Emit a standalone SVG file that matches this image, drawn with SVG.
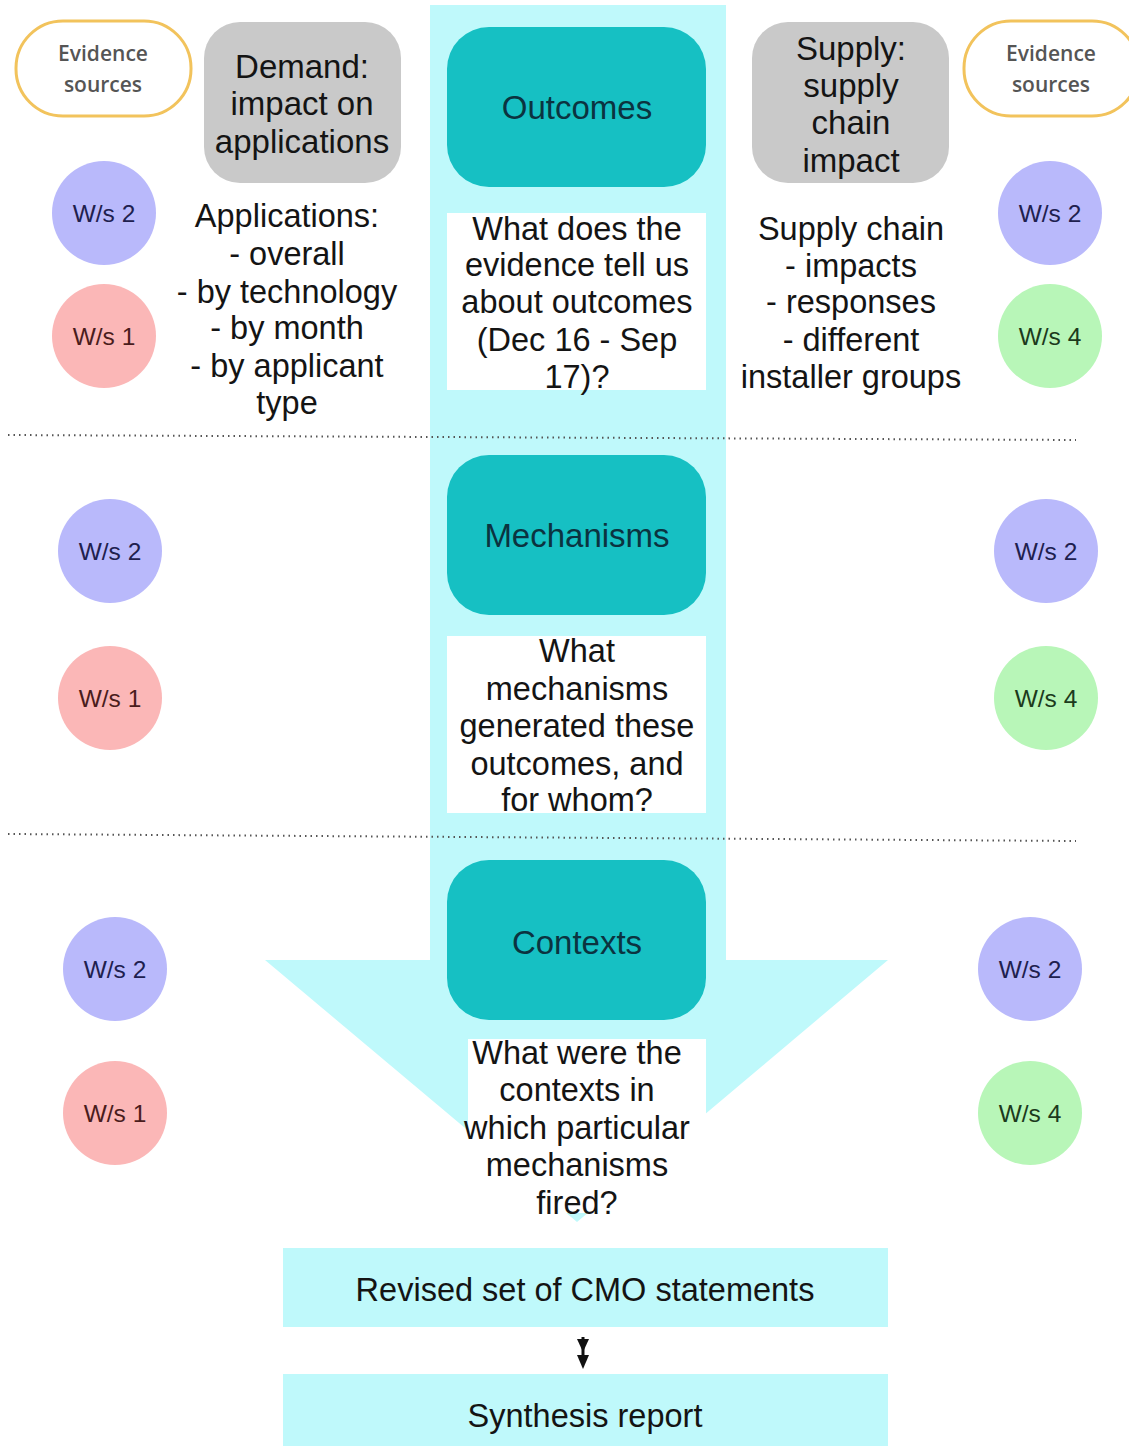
<svg xmlns="http://www.w3.org/2000/svg" width="1129" height="1446" viewBox="0 0 1129 1446">
<style>
  .t{font-family:"Liberation Sans",Arial,sans-serif;fill:#141414;text-anchor:middle}
  .big{font-size:33px}
  .q{font-size:32.5px}
  .lbl{font-family:"Liberation Sans",Arial,sans-serif;font-size:33px;fill:#0b3340;text-anchor:middle}
  .teal{fill:#16c0c3}
  .grey{fill:#c9c9c9}
  .wbox{fill:#ffffff}
  .cyan{fill:#bff9fb}
  .ev{fill:#ffffff;stroke:#f2c35c;stroke-width:3}
  .evt{font-family:"Open Sans","DejaVu Sans",sans-serif;font-size:21px;font-weight:600;fill:#555555;text-anchor:middle}
  .ws{font-family:"Liberation Sans",Arial,sans-serif;font-size:24.5px;text-anchor:middle}
  .pu{fill:#b9b9fb}.pk{fill:#fbb7b7}.gr{fill:#b8f6b8}
  .put{fill:#20204e}.pkt{fill:#4a1c1c}.grt{fill:#1c3a1c}
  .dot{stroke:#555;stroke-width:2;stroke-dasharray:1.5 4;fill:none}
</style>

<g id="big-arrow">
  <rect class="cyan" x="430" y="5" width="296" height="956"/>
  <polygon class="cyan" points="265,960 888,960 577,1222"/>
</g>

<g id="connectors">
  <line class="dot" x1="8" y1="435" x2="1076" y2="440"/>
  <line class="dot" x1="8" y1="834" x2="1076" y2="841"/>
  <line x1="583" y1="1337" x2="583" y2="1360" stroke="#111" stroke-width="3"/>
  <polygon points="577,1339 589,1339 583,1352" fill="#111"/>
  <polygon points="577,1355 589,1355 583,1369" fill="#111"/>
</g>

<g id="evidence-left">
  <rect class="ev" x="16" y="21" width="175" height="95" rx="47"/>
  <text class="evt" x="103" y="61">Evidence</text>
  <text class="evt" x="103" y="92">sources</text>
</g>
<g id="evidence-right">
  <rect class="ev" x="964" y="21" width="175" height="95" rx="47"/>
  <text class="evt" x="1051" y="61">Evidence</text>
  <text class="evt" x="1051" y="92">sources</text>
</g>

<g id="demand">
  <rect class="grey" x="204" y="22" width="197" height="161" rx="36"/>
  <text class="t big" x="302" y="78">Demand:</text>
  <text class="t big" x="302" y="115">impact on</text>
  <text class="t big" x="302" y="153">applications</text>
</g>
<g id="supply">
  <rect class="grey" x="752" y="22" width="197" height="161" rx="36"/>
  <text class="t big" x="851" y="60">Supply:</text>
  <text class="t big" x="851" y="97">supply</text>
  <text class="t big" x="851" y="134">chain</text>
  <text class="t big" x="851" y="172">impact</text>
</g>

<g id="applications-text">
  <text class="t q" x="287" y="227">Applications:</text>
  <text class="t q" x="287" y="265">- overall</text>
  <text class="t q" x="287" y="303">- by technology</text>
  <text class="t q" x="287" y="339">- by month</text>
  <text class="t q" x="287" y="377">- by applicant</text>
  <text class="t q" x="287" y="414">type</text>
</g>
<g id="supply-text">
  <text class="t q" x="851" y="240">Supply chain</text>
  <text class="t q" x="851" y="277">- impacts</text>
  <text class="t q" x="851" y="313">- responses</text>
  <text class="t q" x="851" y="351">- different</text>
  <text class="t q" x="851" y="388">installer groups</text>
</g>

<g id="outcomes">
  <rect class="teal" x="447" y="27" width="259" height="160" rx="42"/>
  <text class="lbl" x="577" y="119">Outcomes</text>
</g>
<g id="outcomes-question">
  <rect class="wbox" x="447" y="213" width="259" height="177"/>
  <text class="t q" x="577" y="240">What does the</text>
  <text class="t q" x="577" y="276">evidence tell us</text>
  <text class="t q" x="577" y="313">about outcomes</text>
  <text class="t q" x="577" y="351">(Dec 16 - Sep</text>
  <text class="t q" x="577" y="388">17)?</text>
</g>

<g id="mechanisms">
  <rect class="teal" x="447" y="455" width="259" height="160" rx="42"/>
  <text class="lbl" x="577" y="547">Mechanisms</text>
</g>
<g id="mechanisms-question">
  <rect class="wbox" x="447" y="636" width="259" height="177"/>
  <text class="t q" x="577" y="662">What</text>
  <text class="t q" x="577" y="700">mechanisms</text>
  <text class="t q" x="577" y="737">generated these</text>
  <text class="t q" x="577" y="775">outcomes, and</text>
  <text class="t q" x="577" y="811">for whom?</text>
</g>

<g id="contexts">
  <rect class="teal" x="447" y="860" width="259" height="160" rx="42"/>
  <text class="lbl" x="577" y="954">Contexts</text>
</g>
<g id="contexts-question">
  <rect class="wbox" x="468" y="1039" width="238" height="174"/>
  <text class="t q" x="577" y="1064">What were the</text>
  <text class="t q" x="577" y="1101">contexts in</text>
  <text class="t q" x="577" y="1139">which particular</text>
  <text class="t q" x="577" y="1176">mechanisms</text>
  <text class="t q" x="577" y="1214">fired?</text>
</g>

<g id="ws-l1-2"><circle class="pu" cx="104" cy="213" r="52"/><text class="ws put" x="104" y="222">W/s 2</text></g>
<g id="ws-l1-1"><circle class="pk" cx="104" cy="336" r="52"/><text class="ws pkt" x="104" y="345">W/s 1</text></g>
<g id="ws-r1-2"><circle class="pu" cx="1050" cy="213" r="52"/><text class="ws put" x="1050" y="222">W/s 2</text></g>
<g id="ws-r1-4"><circle class="gr" cx="1050" cy="336" r="52"/><text class="ws grt" x="1050" y="345">W/s 4</text></g>

<g id="ws-l2-2"><circle class="pu" cx="110" cy="551" r="52"/><text class="ws put" x="110" y="560">W/s 2</text></g>
<g id="ws-l2-1"><circle class="pk" cx="110" cy="698" r="52"/><text class="ws pkt" x="110" y="707">W/s 1</text></g>
<g id="ws-r2-2"><circle class="pu" cx="1046" cy="551" r="52"/><text class="ws put" x="1046" y="560">W/s 2</text></g>
<g id="ws-r2-4"><circle class="gr" cx="1046" cy="698" r="52"/><text class="ws grt" x="1046" y="707">W/s 4</text></g>

<g id="ws-l3-2"><circle class="pu" cx="115" cy="969" r="52"/><text class="ws put" x="115" y="978">W/s 2</text></g>
<g id="ws-l3-1"><circle class="pk" cx="115" cy="1113" r="52"/><text class="ws pkt" x="115" y="1122">W/s 1</text></g>
<g id="ws-r3-2"><circle class="pu" cx="1030" cy="969" r="52"/><text class="ws put" x="1030" y="978">W/s 2</text></g>
<g id="ws-r3-4"><circle class="gr" cx="1030" cy="1113" r="52"/><text class="ws grt" x="1030" y="1122">W/s 4</text></g>

<g id="revised-cmo">
  <rect class="cyan" x="283" y="1248" width="605" height="79"/>
  <text class="t q" x="585" y="1301">Revised set of CMO statements</text>
</g>
<g id="synthesis">
  <rect class="cyan" x="283" y="1374" width="605" height="72"/>
  <text class="t q" x="585" y="1427">Synthesis report</text>
</g>
</svg>
